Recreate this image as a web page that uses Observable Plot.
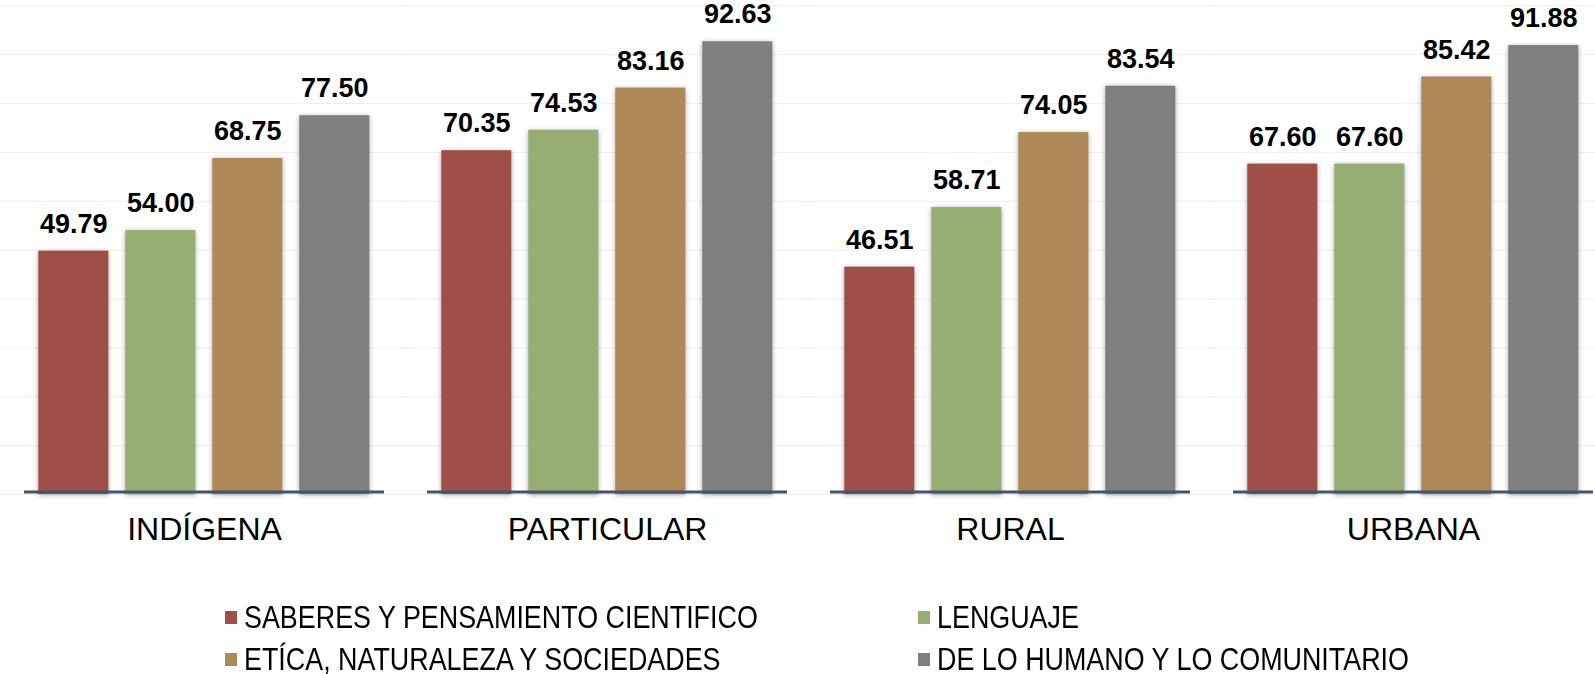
<!DOCTYPE html>
<html>
<head>
<meta charset="utf-8">
<script src="https://cdn.jsdelivr.net/npm/d3@7"></script>
<script src="https://cdn.jsdelivr.net/npm/@observablehq/plot@0.6"></script>
<style>
  html, body { margin: 0; padding: 0; background: #ffffff; overflow: hidden; }
  #chart svg { display: block; overflow: visible; }
  [aria-label="bar"] rect { filter: drop-shadow(0px 1px 2.5px rgba(0,0,0,0.35)); }
  .legend {
    display: grid;
    grid-template-columns: 693px auto;
    grid-auto-rows: 42px;
    padding-left: 225px;
    margin-top: 36px;
    font-family: "Liberation Sans", Arial, sans-serif;
    font-size: 32px;
    color: #000;
  }
  .legend .item { display: flex; align-items: center; white-space: nowrap; }
  .legend .sw { width: 12px; height: 13px; margin-right: 7px; flex: none; }
  .legend .lab { display: inline-block; transform: scaleX(0.84); transform-origin: left center; }
</style>
</head>
<body>
<div id="chart"></div>
<div class="legend" id="legend"></div>
<script>
const groups = ["INDÍGENA", "PARTICULAR", "RURAL", "URBANA"];
const subjects = [
  "SABERES Y PENSAMIENTO CIENTIFICO",
  "LENGUAJE",
  "ETÍCA, NATURALEZA Y SOCIEDADES",
  "DE LO HUMANO Y LO COMUNITARIO"
];
const saberes = [49.79, 70.35, 46.51, 67.60];
const lenguaje = [54.00, 74.53, 58.71, 67.60];
const etica = [68.75, 83.16, 74.05, 85.42];
const humano = [77.50, 92.63, 83.54, 91.88];
const colors = ["#9F4F47", "#96AD73", "#AE8856", "#7F7F7F"];
const yTicks = [0, 10, 20, 30, 40, 50, 60, 70, 80, 90, 100];

const series = [saberes, lenguaje, etica, humano];
const data = groups.flatMap((g, i) =>
  subjects.map((s, j) => ({ group: g, subject: s, value: series[j][i] }))
);

const chart = Plot.plot({
  width: 1595,
  height: 560,
  marginLeft: 22.7,
  marginRight: 0.5,
  marginTop: 5.3,
  marginBottom: 66,
  style: { fontFamily: "'Liberation Sans', Arial, sans-serif", background: "#ffffff" },
  fx: { domain: groups, paddingInner: 0.1055, paddingOuter: 0, axis: null, label: null },
  x: { domain: subjects, paddingInner: 0.19, paddingOuter: 0.16, axis: null, label: null },
  y: { domain: [0, 100], axis: null, label: null },
  color: { domain: subjects, range: colors },
  marks: [
    Plot.ruleY(yTicks, { stroke: "#efefef", strokeWidth: 1, insetLeft: -25, insetRight: -25 }),
    Plot.barY(data, { fx: "group", x: "subject", y: "value", fill: "subject" }),
    Plot.ruleY([0], { stroke: "#44546A", strokeWidth: 3, dy: -2.5 }),
    Plot.text(data, {
      fx: "group", x: "subject", y: "value",
      text: d => d.value.toFixed(2),
      dy: -27, fontSize: 27, fontWeight: "bold", fill: "#000"
    }),
    Plot.text(groups, {
      fx: d => d, text: d => d, frameAnchor: "bottom",
      dy: 45, fontSize: 32, fill: "#000"
    })
  ]
});
document.getElementById("chart").appendChild(chart);

const legend = document.getElementById("legend");
subjects.forEach((s, j) => {
  const item = document.createElement("div");
  item.className = "item";
  const sw = document.createElement("span");
  sw.className = "sw";
  sw.style.background = colors[j];
  const label = document.createElement("span");
  label.className = "lab";
  label.textContent = s;
  item.appendChild(sw);
  item.appendChild(label);
  legend.appendChild(item);
});
</script>
</body>
</html>
